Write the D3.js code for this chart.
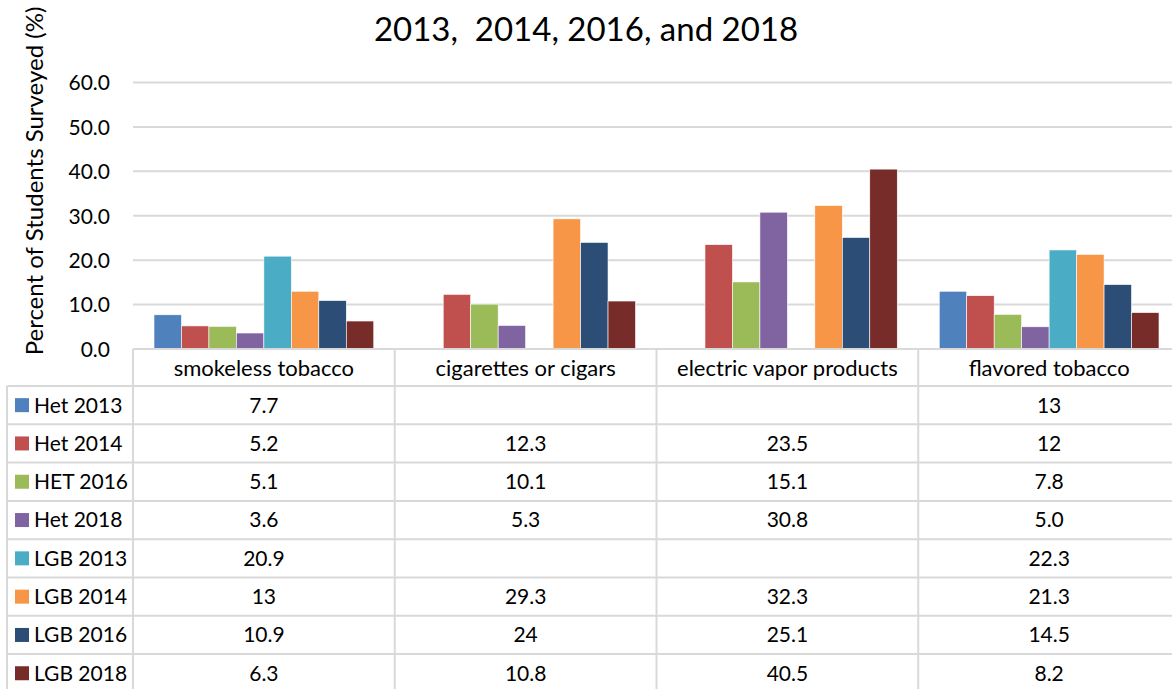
<!DOCTYPE html>
<html><head><meta charset="utf-8">
<script src="https://cdn.jsdelivr.net/npm/d3@7"></script>
<style>body{margin:0;background:#fff;} svg{display:block;font-family:Lato,"Open Sans",sans-serif;}</style>
</head><body>
<svg id="chart" width="1172" height="689"></svg>
<script>
const categories = ["smokeless tobacco", "cigarettes or cigars", "electric vapor products", "flavored tobacco"];
const seriesNames = ["Het 2013", "Het 2014", "HET 2016", "Het 2018", "LGB 2013", "LGB 2014", "LGB 2016", "LGB 2018"];
const seriesColors = ["#4F81BD", "#C0504D", "#9BBB59", "#8064A2", "#4BACC6", "#F79646", "#2C4D75", "#772C2A"];
const het2013 = [7.7, null, null, 13];
const het2014 = [5.2, 12.3, 23.5, 12];
const het2016 = [5.1, 10.1, 15.1, 7.8];
const het2018 = [3.6, 5.3, 30.8, 5.0];
const lgb2013 = [20.9, null, null, 22.3];
const lgb2014 = [13, 29.3, 32.3, 21.3];
const lgb2016 = [10.9, 24, 25.1, 14.5];
const lgb2018 = [6.3, 10.8, 40.5, 8.2];
const tableLabels = [
  ["7.7", "", "", "13"],
  ["5.2", "12.3", "23.5", "12"],
  ["5.1", "10.1", "15.1", "7.8"],
  ["3.6", "5.3", "30.8", "5.0"],
  ["20.9", "", "", "22.3"],
  ["13", "29.3", "32.3", "21.3"],
  ["10.9", "24", "25.1", "14.5"],
  ["6.3", "10.8", "40.5", "8.2"]
];
const yTicks = [0, 10, 20, 30, 40, 50, 60];
const titleLine2 = "2013,  2014, 2016, and 2018";
const yAxisTitle = "Percent of Students Surveyed (%)";

const seriesValues = [het2013, het2014, het2016, het2018, lgb2013, lgb2014, lgb2016, lgb2018];

const svg = d3.select("#chart");
const gridColor = "#d9d9d9";
const left = 133, right = 1180, y0 = 349, yTop = 82.5;
const x = d3.scaleBand().domain(categories).range([left, right]).paddingInner(0).paddingOuter(0);
const innerPad = 21;
const xs = d3.scaleBand().domain(seriesNames).range([innerPad, x.bandwidth() - innerPad]).padding(0);
const y = d3.scaleLinear().domain([0, 60]).range([y0, yTop]);
const fs = 21;

// title
svg.append("text").attr("x", 586).attr("y", 41).attr("text-anchor", "middle")
  .style("white-space", "pre").attr("xml:space", "preserve")
  .attr("font-size", 33).attr("fill", "#000").text(titleLine2);

// gridlines
svg.append("g").selectAll("line").data(yTicks.filter(d => d > 0)).join("line")
  .attr("x1", left).attr("x2", 1172).attr("y1", d => y(d)).attr("y2", d => y(d))
  .attr("stroke", gridColor).attr("stroke-width", 2);

// y axis tick labels
const yAxis = d3.axisLeft(y).tickValues(yTicks).tickFormat(d3.format(".1f")).tickSize(0).tickPadding(0);
const ya = svg.append("g").attr("transform", `translate(110,0)`).call(yAxis);
ya.select(".domain").remove();
ya.selectAll("text").attr("font-size", fs).attr("font-family", "Lato").attr("fill", "#000").attr("dy", "0.35em");

// y axis title
svg.append("text").attr("transform", "translate(43,181) rotate(-90)").attr("text-anchor", "middle")
  .attr("font-size", 24).attr("fill", "#000").text(yAxisTitle);

// bars
const gBars = svg.append("g");
seriesValues.forEach((vals, si) => {
  gBars.append("g").selectAll("rect").data(categories.map((c, ci) => ({c, v: vals[ci]})).filter(d => d.v != null))
    .join("rect")
    .attr("x", d => x(d.c) + xs(seriesNames[si]))
    .attr("width", xs.bandwidth())
    .attr("y", d => y(d.v))
    .attr("height", d => y0 - y(d.v))
    .attr("fill", seriesColors[si])
    .attr("stroke", "#fff").attr("stroke-width", 0.6);
});

// table
const headerBottom = 386, rowH = 38.3, tableLeft = 7;
const rowTop = i => headerBottom + i * rowH;
const gT = svg.append("g");
gT.append("line").attr("x1", left).attr("x2", 1172).attr("y1", y0).attr("y2", y0).attr("stroke", gridColor).attr("stroke-width", 2);
gT.selectAll("line.h").data(d3.range(seriesNames.length + 1)).join("line").attr("class", "h")
  .attr("x1", tableLeft).attr("x2", 1172).attr("y1", d => rowTop(d)).attr("y2", d => rowTop(d))
  .attr("stroke", gridColor).attr("stroke-width", 2);
gT.append("line").attr("x1", tableLeft).attr("x2", tableLeft).attr("y1", headerBottom).attr("y2", 689).attr("stroke", gridColor).attr("stroke-width", 2);
gT.selectAll("line.v").data(categories).join("line").attr("class", "v")
  .attr("x1", d => x(d)).attr("x2", d => x(d)).attr("y1", y0).attr("y2", 689)
  .attr("stroke", gridColor).attr("stroke-width", 2);
gT.selectAll("text.hd").data(categories).join("text").attr("class", "hd")
  .attr("x", d => x(d) + x.bandwidth() / 2).attr("y", (y0 + headerBottom) / 2 + 1).attr("dy", "0.35em")
  .attr("text-anchor", "middle").attr("font-size", 22).attr("fill", "#000").text(d => d);
seriesNames.forEach((s, i) => {
  const cy = rowTop(i) + rowH / 2;
  gT.append("rect").attr("x", 15).attr("y", cy - 7).attr("width", 14).attr("height", 14).attr("fill", seriesColors[i]);
  gT.append("text").attr("x", 34).attr("y", cy).attr("dy", "0.35em").attr("font-size", fs).attr("fill", "#000").text(s);
  gT.selectAll(null).data(categories).join("text")
    .attr("x", d => x(d) + x.bandwidth() / 2).attr("y", cy).attr("dy", "0.35em")
    .attr("text-anchor", "middle").attr("font-size", fs).attr("fill", "#000")
    .text((d, ci) => tableLabels[i][ci]);
});
</script>
</body></html>
